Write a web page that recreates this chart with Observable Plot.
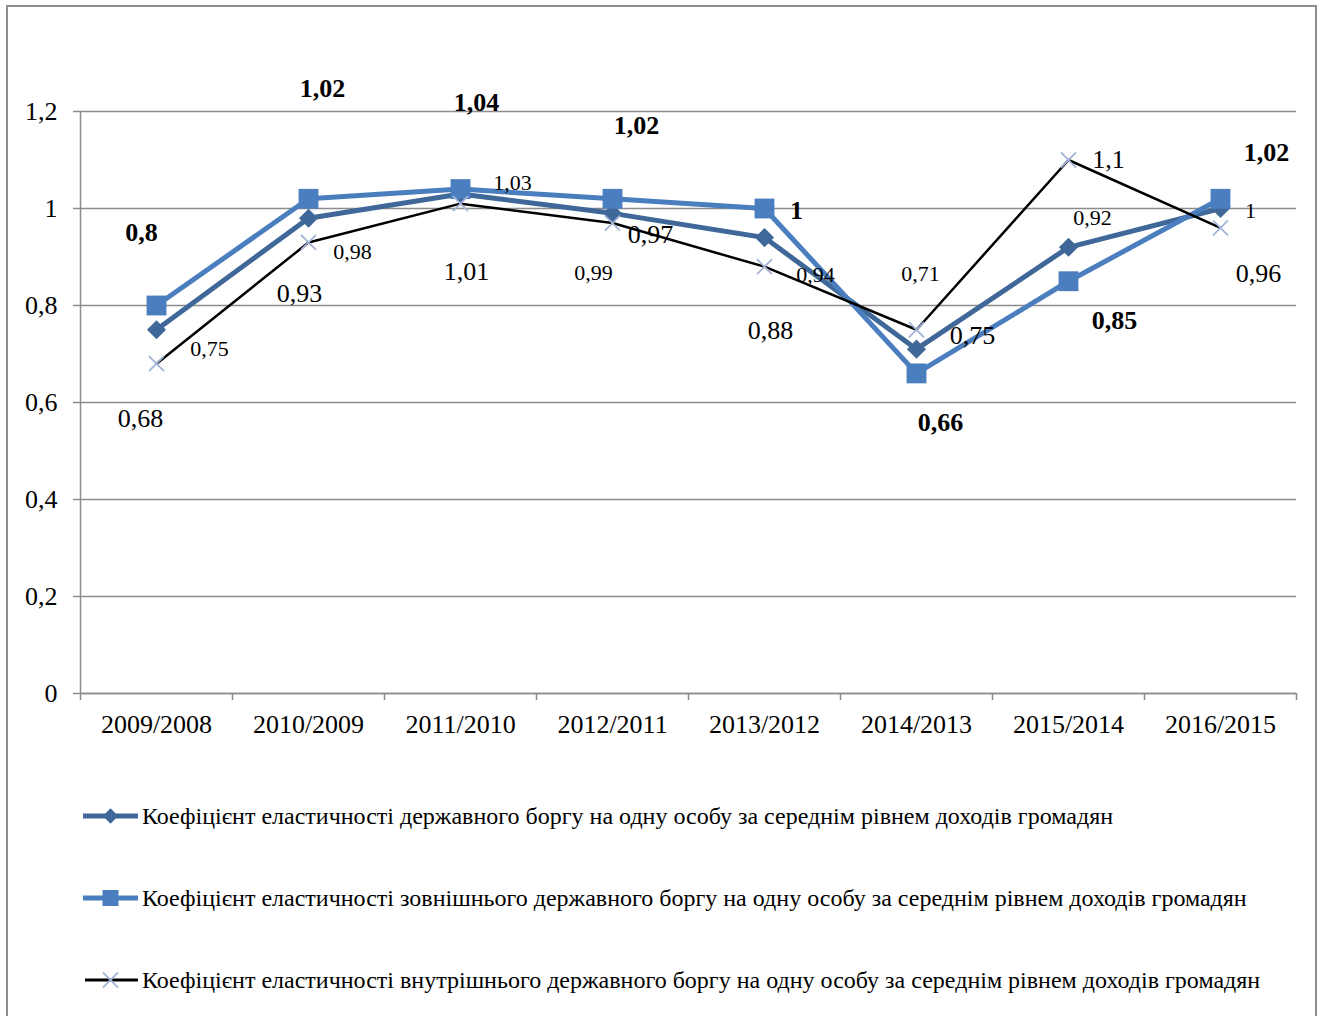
<!DOCTYPE html>
<html>
<head>
<meta charset="utf-8">
<script src="https://cdn.jsdelivr.net/npm/d3@7"></script>
<script src="https://cdn.jsdelivr.net/npm/@observablehq/plot@0.6"></script>
<style>
  body { margin: 0; background: #fff; font-family: "Liberation Serif", "Times New Roman", serif; }
  #wrap { position: relative; width: 1322px; height: 1016px; overflow: hidden; background: #fff; }
  #chart { position: absolute; left: 0; top: 0; }
  #frame { position: absolute; left: 6px; top: 5px; width: 1311px; height: 1100px; border: 2px solid #8e8e8e; box-sizing: border-box; pointer-events: none; }
  .row { position: absolute; left: 83px; height: 30px; display: flex; align-items: center; font-size: 24px; color: #000; white-space: nowrap; }
  .row svg { flex: none; margin-right: 4px; }
</style>
</head>
<body>
<div id="wrap">
  <div id="chart"></div>
  <div id="legend"></div>
  <div id="frame"></div>
</div>
<script>
// Period labels (year-over-year ratios)
const categories = ["2009/2008", "2010/2009", "2011/2010", "2012/2011", "2013/2012", "2014/2013", "2015/2014", "2016/2015"];

// Elasticity coefficients per capita relative to average income
const debtTotal    = [0.75, 0.98, 1.03, 0.99, 0.94, 0.71, 0.92, 1.00];
const debtExternal = [0.80, 1.02, 1.04, 1.02, 1.00, 0.66, 0.85, 1.02];
const debtDomestic = [0.68, 0.93, 1.01, 0.97, 0.88, 0.75, 1.10, 0.96];

const yTicks = [0, 0.2, 0.4, 0.6, 0.8, 1, 1.2];

const seriesNames = [
  "Коефіцієнт еластичності державного боргу на одну особу за середнім рівнем доходів громадян",
  "Коефіцієнт еластичності зовнішнього державного боргу на одну особу за середнім рівнем доходів громадян",
  "Коефіцієнт еластичності внутрішнього державного боргу на одну особу за середнім рівнем доходів громадян"
];

// Pixel offsets of each value label from its point [dx, dy]
const offsetsTotal    = [[53, 19], [44, 34], [52, -11], [-19, 60], [51, 37], [4, -75], [24, -29], [30, 2]];
const offsetsExternal = [[-15, -73], [14, -110], [16, -86], [24, -73], [32, 2], [24, 49], [46, 39], [46, -46]];
const offsetsDomestic = [[-16, 55], [-9, 51], [6, 68], [38, 12], [6, 64], [56, 6], [40, 0], [38, 46]];

const colorTotal = "#3f6899";
const colorExternal = "#4a7ebe";
const colorDomestic = "#000000";
const colorCross = "#a3b3d8";
const gridColor = "#8c8c8c";

const fmt = v => String(+v.toFixed(2)).replace(".", ",");

const width = 1322, height = 760;
const marginLeft = 80, marginRight = 26, marginTop = 111, marginBottom = 67;
const halfStep = (width - marginLeft - marginRight) / categories.length / 2;

const rows = values => categories.map((c, i) => ({c, v: values[i]}));

const labelMarks = (values, offsets, opts) =>
  values.map((v, i) => Plot.text([{c: categories[i], v}], {
    x: "c", y: "v", text: d => fmt(d.v),
    dx: offsets[i][0], dy: offsets[i][1],
    textAnchor: "middle", lineAnchor: "middle", fill: "#000", ...opts
  }));

const chart = Plot.plot({
  width, height, marginLeft, marginRight, marginTop, marginBottom,
  style: {fontFamily: "Liberation Serif, Times New Roman, serif", fontSize: "26px", color: "#000", background: "#fff"},
  x: {type: "point", domain: categories, padding: 0.5, axis: null, label: null},
  y: {domain: [0, 1.2], axis: null, label: null},
  marks: [
    Plot.gridY(yTicks, {stroke: gridColor, strokeOpacity: 1, strokeWidth: 1.5}),
    Plot.ruleY([0], {stroke: gridColor, strokeWidth: 1.5}),
    Plot.ruleX([categories[0]], {y1: 0, y2: 1.2, dx: -halfStep, stroke: gridColor, strokeWidth: 1.5}),
    Plot.axisY(yTicks, {label: null, tickSize: 7, tickPadding: 16, tickFormat: fmt, fontSize: 26, stroke: gridColor, strokeWidth: 1.5, fill: "#000"}),
    Plot.axisX(categories, {label: null, tickSize: 7, tickFormat: () => "", dx: -halfStep, stroke: gridColor, strokeWidth: 1.5}),
    Plot.axisX([categories[categories.length - 1]], {label: null, tickSize: 7, tickFormat: () => "", dx: halfStep, stroke: gridColor, strokeWidth: 1.5}),
    Plot.axisX(categories, {label: null, tickSize: 0, tickPadding: 21, fontSize: 26, fill: "#000"}),

    Plot.line(rows(debtTotal), {x: "c", y: "v", stroke: colorTotal, strokeWidth: 5, strokeLinejoin: "round"}),
    Plot.dot(rows(debtTotal), {x: "c", y: "v", symbol: "diamond2", r: 8.6, fill: colorTotal, stroke: "none"}),

    Plot.line(rows(debtExternal), {x: "c", y: "v", stroke: colorExternal, strokeWidth: 5, strokeLinejoin: "round"}),
    Plot.dot(rows(debtExternal), {x: "c", y: "v", symbol: "square", r: 11.2, fill: colorExternal, stroke: "none"}),

    Plot.line(rows(debtDomestic), {x: "c", y: "v", stroke: colorDomestic, strokeWidth: 2.5, strokeLinejoin: "round"}),
    Plot.dot(rows(debtDomestic), {x: "c", y: "v", symbol: "times", r: 6.9, stroke: colorCross, strokeWidth: 1.8}),

    ...labelMarks(debtTotal, offsetsTotal, {fontSize: 22}),
    ...labelMarks(debtExternal, offsetsExternal, {fontSize: 26, fontWeight: "bold"}),
    ...labelMarks(debtDomestic, offsetsDomestic, {fontSize: 26})
  ]
});
document.getElementById("chart").append(chart);

// Legend under the plot
const legendSpecs = [
  {line: colorTotal, lineWidth: 5, symbol: d3.symbolDiamond2, size: 150, fill: colorTotal, stroke: "none", sw: 0, x0: 0},
  {line: colorExternal, lineWidth: 5, symbol: d3.symbolSquare, size: 256, fill: colorExternal, stroke: "none", sw: 0, x0: 0},
  {line: colorDomestic, lineWidth: 3, symbol: d3.symbolTimes, size: 150, fill: "none", stroke: colorCross, sw: 1.8, x0: 2}
];
const legendCenters = [816, 898, 980];
const legend = d3.select("#legend");
legendSpecs.forEach((s, i) => {
  const row = legend.append("div").attr("class", "row").style("top", (legendCenters[i] - 15) + "px");
  const svg = row.append("svg").attr("width", 55).attr("height", 30);
  svg.append("line").attr("x1", s.x0).attr("x2", 55).attr("y1", 15).attr("y2", 15)
    .attr("stroke", s.line).attr("stroke-width", s.lineWidth);
  svg.append("path").attr("transform", "translate(27.5,15)")
    .attr("d", d3.symbol(s.symbol, s.size)())
    .attr("fill", s.fill).attr("stroke", s.stroke).attr("stroke-width", s.sw);
  row.append("span").text(seriesNames[i]);
});
</script>
</body>
</html>
